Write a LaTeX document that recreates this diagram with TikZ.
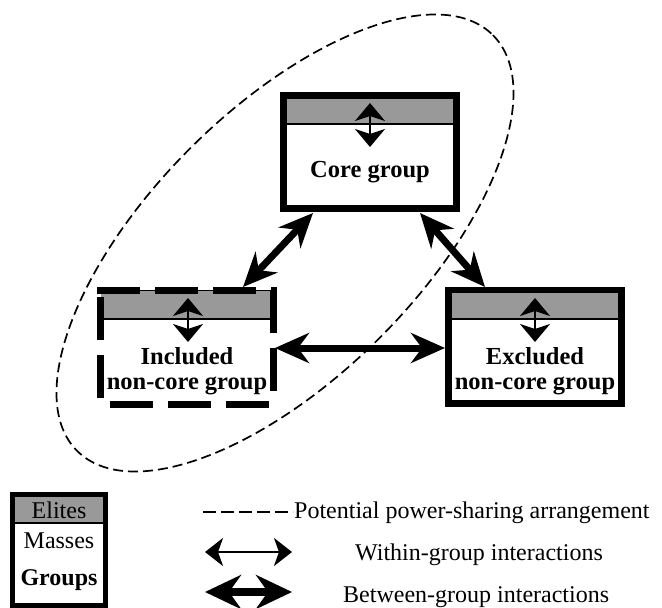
\documentclass[tikz,border=0pt]{standalone}
\usepackage{fontspec}
\setmainfont{Liberation Serif}
\usetikzlibrary{arrows.meta}
\definecolor{band}{RGB}{153,153,153}
\begin{document}
\begin{tikzpicture}[x=1pt,y=-1pt,
  gbox/.style={draw,line width=7pt,fill=white,minimum width=173pt,minimum height=113pt,inner sep=0pt,outer sep=0pt},
  ibox/.style={fill=white,minimum width=173pt,minimum height=113pt,inner sep=0pt,outer sep=0pt},
  dside/.style={line width=7pt,dash pattern=on 43pt off 15pt},
  bandfill/.style={fill=band},
  thin/.style={line width=1.5pt},
  lbl/.style={font=\fontsize{24.5}{28}\selectfont\bfseries,anchor=base,inner sep=0pt},
  leg/.style={font=\fontsize{24}{28}\selectfont,anchor=base,inner sep=0pt},
  ellip/.style={line width=1.7pt,dash pattern=on 10pt off 5pt},
  between/.style={line width=7pt,{Stealth[length=34pt,width=30pt,inset=11pt]}-{Stealth[length=34pt,width=30pt,inset=11pt]}},
  within/.style={line width=2.5pt,{Stealth[length=18pt,width=30pt,inset=5pt]}-{Stealth[length=18pt,width=30pt,inset=5pt]}},
]
\useasboundingbox (0,0) rectangle (662,608);

% potential power-sharing ellipse
\draw[ellip, rotate around={45:(285,243)}] (285,243) ellipse [x radius=294, y radius=134];

% core group
\node[gbox] (core) at (370,152) {};
\fill[bandfill] (287,99) rectangle (453,124);
\draw[thin] (287,124) -- (453,124);
\node[lbl] (coretxt) at (370,177) {Core group};
\coordinate (ct) at (370,103);
\coordinate (cb) at (370,147);
\draw[within] (ct) -- (cb);

% included non-core group
\node[ibox] (inc) at (187,347) {};
\fill[bandfill] (100.5,290.5) rectangle (273.5,319);
\draw[thin] (100.5,290.5) -- (273.5,290.5);
\draw[thin] (100.5,319) -- (273.5,319);
\draw[dside] (97,290.5) -- (277,290.5);
\draw[dside] (100.5,297) -- (100.5,400);
\draw[dside] (273.5,290) -- (273.5,400);
\draw[dside] (110,404.5) -- (275,404.5);
\node[lbl] (inctxt1) at (187,364) {Included};
\node[lbl] (inctxt2) at (187,389) {non-core group};
\coordinate (it) at (188,298);
\coordinate (ib) at (188,342);
\draw[within] (it) -- (ib);

% excluded non-core group
\node[gbox] (exc) at (535,346.5) {};
\fill[bandfill] (452,293) rectangle (618,319);
\draw[thin] (452,319) -- (618,319);
\node[lbl] (exctxt1) at (535,364) {Excluded};
\node[lbl] (exctxt2) at (535,389) {non-core group};
\coordinate (et) at (535,298);
\coordinate (eb) at (535,342);
\draw[within] (et) -- (eb);

% between-group arrows
\coordinate (c1) at (313,213);
\coordinate (i1) at (243,287);
\coordinate (c2) at (420,213);
\coordinate (e2) at (485,287);
\coordinate (i3) at (275,348);
\coordinate (e3) at (445,348);
\draw[between] (c1) -- (i1);
\draw[between] (c2) -- (e2);
\draw[between] (i3) -- (e3);

% legend box
\node[draw,line width=5pt,fill=white,minimum width=93pt,minimum height=111pt,inner sep=0pt,outer sep=0pt] (legbox) at (59,550) {};
\fill[bandfill] (15,497) rectangle (103,523);
\draw[thin] (15,523) -- (103,523);
\node[leg] (elites) at (59,518) {Elites};
\node[leg] (masses) at (59,548) {Masses};
\node[leg,font=\fontsize{24}{28}\selectfont\bfseries] (groups) at (59,585) {Groups};

% legend lines
\coordinate (d1) at (203,512);
\coordinate (d2) at (293,512);
\draw[line width=2pt,dash pattern=on 13pt off 5pt] (d1) -- (d2);
\node[leg,anchor=base west] (ptxt) at (294,518) {Potential power-sharing arrangement};
\coordinate (w1) at (205,552);
\coordinate (w2) at (292,552);
\draw[line width=2.5pt,{Stealth[length=18pt,width=28pt,inset=5pt]}-{Stealth[length=18pt,width=28pt,inset=5pt]}] (w1) -- (w2);
\node[leg,anchor=base west] (wtxt) at (355,560) {Within-group interactions};
\coordinate (b1) at (205,592);
\coordinate (b2) at (292,592);
\draw[line width=8pt,{Stealth[length=36pt,width=34pt,inset=12pt]}-{Stealth[length=36pt,width=34pt,inset=12pt]}] (b1) -- (b2);
\node[leg,anchor=base west] (btxt) at (343,602) {Between-group interactions};
\end{tikzpicture}
\end{document}
